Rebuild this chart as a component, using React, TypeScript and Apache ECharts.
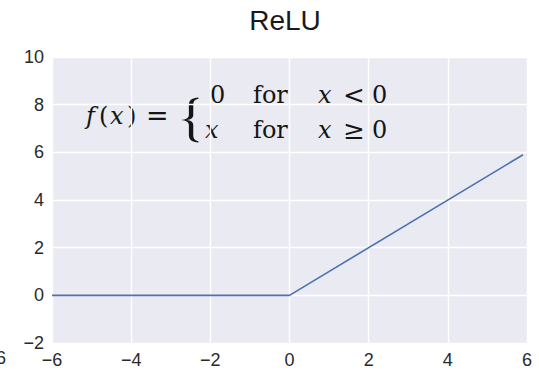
import React, { useEffect, useRef } from "react";
import * as echarts from "echarts";

const titleText = "ReLU";
const xTicks = { min: -6, max: 6, interval: 2 };
const yTicks = { min: -2, max: 10, interval: 2 };
// ReLU sampled at its breakpoints (x from -6 to 5.9, as in np.arange(-6, 6, 0.1))
const reluX = [-6, 0, 5.9];
const reluY = [0, 0, 5.9];

const bracePath =
  "M 14 0.5 C 9 1 6.3 3 6.3 8 L 6.3 18 C 6.3 21 4 22.5 0 23 C 4 23.5 6.3 25 6.3 28 L 6.3 38 C 6.3 43 9 45 14 45.5 L 14 44.2 C 11.2 43.6 9.8 42 9.8 38 L 9.8 28 C 9.8 25 8 23.6 4.5 23 C 8 22.4 9.8 21 9.8 18 L 9.8 8 C 9.8 4 11.2 2.4 14 1.8 Z";

let braceRegistered = false;
function registerBrace() {
  if (braceRegistered) return;
  echarts.graphic.registerShape("brace", echarts.graphic.extendPath(bracePath, {}) as any);
  braceRegistered = true;
}

const minus = (v: number) => String(v).replace("-", "\u2212");

export default function App() {
  const ref = useRef<HTMLDivElement>(null);
  useEffect(() => {
    if (!ref.current) return;
    registerBrace();
    const chart = echarts.init(ref.current, undefined, { renderer: "svg" });
    const serif = "DejaVu Serif";
    const ink = "#151515";
    const fs = 24;
    const row1 = 95;
    const row2 = 130;
    const t = (text: string, x: number, y: number, italic = false, size = fs) => ({
      type: "text",
      x,
      y,
      style: {
        text,
        fontFamily: serif,
        fontSize: size,
        fontStyle: italic ? "italic" : "normal",
        fill: ink,
        textAlign: "left",
        textVerticalAlign: "middle",
      },
    });
    chart.setOption({
      animation: false,
      backgroundColor: "#ffffff",
      title: {
        text: titleText,
        left: 285,
        top: 20.5,
        textAlign: "center",
        textVerticalAlign: "middle",
        padding: 0,
        textStyle: {
          fontFamily: "Liberation Sans",
          fontSize: 28,
          fontWeight: "normal",
          color: "#1a1a1a",
        },
      },
      grid: {
        left: 52,
        right: 12,
        top: 57,
        bottom: 28,
        show: true,
        backgroundColor: "#EAEAF2",
        borderWidth: 0,
      },
      xAxis: {
        type: "value",
        min: xTicks.min,
        max: xTicks.max,
        interval: xTicks.interval,
        axisLine: { show: false },
        axisTick: { show: false },
        splitLine: { show: true, lineStyle: { color: "#ffffff", width: 1.4 } },
        axisLabel: {
          margin: 8,
          fontFamily: "Liberation Sans",
          fontSize: 18,
          color: "#2a2a2a",
          formatter: (v: number) => minus(v),
        },
      },
      yAxis: {
        type: "value",
        min: yTicks.min,
        max: yTicks.max,
        interval: yTicks.interval,
        axisLine: { show: false },
        axisTick: { show: false },
        splitLine: { show: true, lineStyle: { color: "#ffffff", width: 1.4 } },
        axisLabel: {
          margin: 8,
          fontFamily: "Liberation Sans",
          fontSize: 18,
          color: "#2a2a2a",
          formatter: (v: number) => minus(v),
        },
      },
      series: [
        {
          type: "line",
          data: reluX.map((x, i) => [x, reluY[i]]),
          showSymbol: false,
          symbol: "none",
          lineStyle: { color: "#4C72B0", width: 1.6 },
        },
      ],
      graphic: [
        // formula f(x) = { 0 for x<0 ; x for x>=0 }
        t("f", 86, 116, true),
        t("(", 99, 116),
        t("x", 110, 116, true),
        t(")", 127, 116),
        t("=", 146, 115, false, 27),
        {
          type: "brace",
          x: 181,
          y: 97,
          scaleX: 1.25,
          scaleY: 1,
          style: { fill: ink },
        },
        t("0", 210, row1),
        t("for", 253, row1),
        t("x", 318, row1, true),
        t("<", 343, row1, false, 26),
        t("0", 372, row1),
        t("x", 205, row2, true),
        t("for", 253, row2),
        t("x", 318, row2, true),
        t("\u2265", 343, row2, false, 26),
        t("0", 372, row2),
        // clipped tick label from a neighbouring panel
        {
          type: "text",
          x: -4,
          y: 358,
          style: {
            text: "6",
            fontFamily: "Liberation Sans",
            fontSize: 18,
            fill: "#2a2a2a",
            textAlign: "left",
            textVerticalAlign: "middle",
          },
        },
      ],
    });
    return () => chart.dispose();
  }, []);
  return (
    <div
      ref={ref}
      style={{ position: "absolute", left: 0, top: 0, width: 539, height: 371 }}
    />
  );
}
